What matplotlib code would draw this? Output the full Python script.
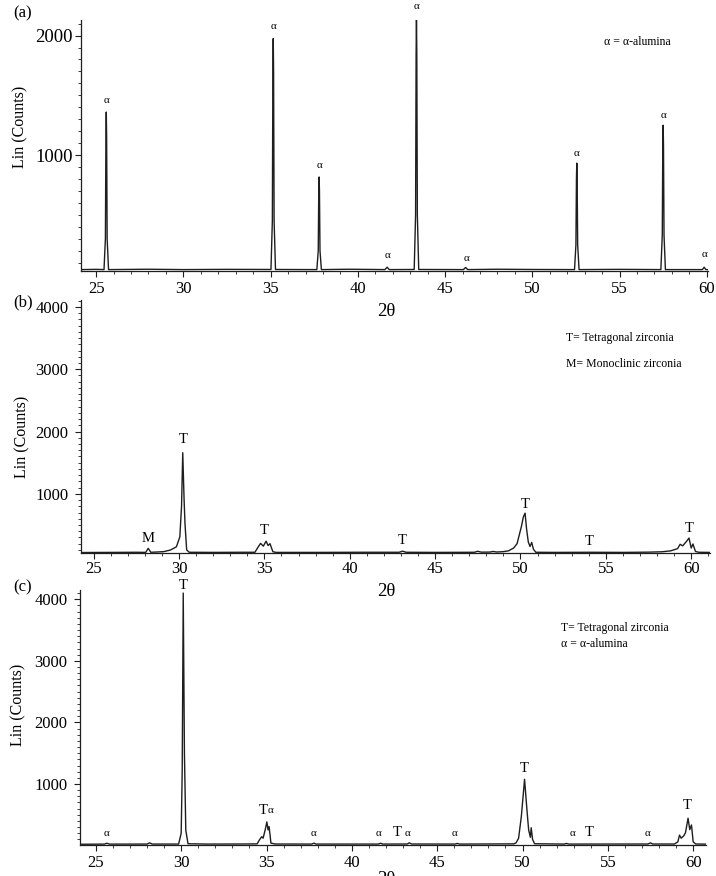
import matplotlib
matplotlib.use("Agg")
import matplotlib.pyplot as plt
from matplotlib.ticker import MultipleLocator

plt.rcParams['font.family'] = ['Liberation Serif', 'DejaVu Serif']

# ---- pattern (a): alpha-alumina ----
angle_a = [24.13, 25.0, 25.45, 25.53, 25.56, 25.58, 25.60, 25.63, 25.71,
           28.0, 30.0, 32.5,
           35.02, 35.10, 35.13, 35.15, 35.17, 35.20, 35.28,
           37.65, 37.73, 37.76, 37.78, 37.80, 37.83, 37.91,
           39.5, 41.55, 41.68, 41.80,
           43.23, 43.31, 43.34, 43.36, 43.38, 43.41, 43.49,
           46.05, 46.18, 46.30, 48.0, 50.0,
           52.42, 52.50, 52.53, 52.55, 52.57, 52.60, 52.68,
           55.0,
           57.37, 57.45, 57.48, 57.50, 57.52, 57.55, 57.63,
           59.75, 59.85, 59.95, 60.07]
counts_a = [42, 44, 42, 300, 1150, 1360, 1150, 300, 42,
            45, 42, 44,
            43, 450, 1700, 1975, 1700, 450, 43,
            42, 200, 700, 817, 700, 200, 42,
            45, 42, 62, 42,
            43, 500, 1850, 2140, 1850, 500, 43,
            42, 60, 42, 45, 43,
            42, 250, 800, 933, 800, 250, 42,
            44,
            42, 330, 1080, 1250, 1080, 330, 42,
            42, 62, 42, 42]

# ---- pattern (b): zirconia ----
angle_b = [24.26, 26.0, 27.5, 28.05, 28.2, 28.35, 28.7, 29.1, 29.5, 29.85,
           30.05, 30.15, 30.22, 30.3, 30.35, 30.45, 30.6, 32.0, 33.5,
           34.45, 34.62, 34.78, 34.94, 35.1, 35.22, 35.33, 35.5, 35.7,
           38.0, 40.5, 42.9, 43.1, 43.3, 45.0, 47.3, 47.5, 47.7, 48.2, 48.4,
           48.6, 49.0, 49.3, 49.6, 49.8, 50.05, 50.17, 50.27, 50.36, 50.46,
           50.56, 50.66, 50.76, 50.9, 52.0, 54.0, 56.0, 57.5, 58.3, 58.8,
           59.2, 59.35, 59.5, 59.72, 59.87, 60.0, 60.1, 60.25, 60.45, 61.1]
counts_b = [58, 60, 62, 60, 125, 62, 66, 72, 98, 150,
            310, 800, 1660, 900, 530, 100, 62, 60, 62,
            62, 140, 205, 160, 240, 170, 200, 70, 60,
            60, 62, 62, 80, 62, 60, 62, 78, 64, 65, 75,
            66, 72, 85, 130, 200, 470, 630, 690, 430, 225,
            155, 220, 110, 62, 60, 62, 60, 64, 70, 85,
            120, 190, 165, 235, 290, 130, 195, 75, 62, 60]

# ---- pattern (c): zirconia + alumina ----
angle_c = [24.07, 25.5, 25.64, 25.8, 28.0, 28.15, 28.3, 29.85,
           30.0, 30.06, 30.12, 30.19, 30.27, 30.4, 31.5, 33.5,
           34.45, 34.58, 34.72, 34.8, 34.93, 35.02, 35.09, 35.15, 35.26,
           35.5, 37.65, 37.78, 37.9, 41.55, 41.68, 41.8, 43.25, 43.36, 43.5,
           46.05, 46.18, 46.3, 49.5, 49.62, 49.77, 49.93, 50.12, 50.26,
           50.36, 50.46, 50.51, 50.59, 50.71, 52.45, 52.58, 52.7,
           57.35, 57.5, 57.62, 58.9, 59.1, 59.2, 59.3, 59.45, 59.55,
           59.70, 59.8, 59.9, 60.0, 60.15, 60.75]
counts_c = [22, 24, 38, 24, 25, 45, 25, 25,
            200, 1200, 4100, 1500, 250, 30, 25, 26,
            28, 90, 145, 120, 265, 385, 255, 310, 40,
            26, 25, 40, 25, 25, 38, 25, 26, 45, 26,
            25, 35, 25, 28, 45, 119, 470, 1077, 578,
            254, 135, 290, 100, 30, 25, 35, 25,
            26, 45, 26, 26, 60, 170, 120, 160, 210,
            445, 260, 335, 60, 26, 24]

# peak labels: text, 2-theta, counts at text bottom
labels_a = [('α', 25.6, 1419), ('α', 35.15, 2038), ('α', 37.8, 875),
            ('α', 41.7, 122), ('α', 43.36, 2205), ('α', 46.2, 97),
            ('α', 52.55, 975), ('α', 57.5, 1293), ('α', 59.85, 130)]
labels_b = [('M', 28.2, 178), ('T', 30.22, 1772), ('T', 35.0, 302),
            ('T', 43.1, 151), ('T', 50.3, 729), ('T', 54.0, 125),
            ('T', 59.9, 339)]
labels_c = [('T', 30.12, 4120), ('T', 34.8, 460), ('α', 35.22, 495),
            ('α', 25.64, 120), ('α', 37.74, 120), ('α', 41.57, 120),
            ('T', 42.68, 110), ('α', 43.27, 120), ('α', 46.02, 120),
            ('T', 50.12, 1147), ('α', 52.9, 120), ('T', 53.92, 110),
            ('α', 57.3, 120), ('T', 59.67, 541)]

legend_a = ['α = α-alumina']
legend_b = ['T= Tetragonal zirconia', 'M= Monoclinic zirconia']
legend_c = ['T= Tetragonal zirconia', 'α = α-alumina']

ink = '#1e1e1e'

fig = plt.figure(figsize=(7.16, 8.76), dpi=100)


def panel(rect, x, y, xlim, ylim, yticks, labels, legend, legend_xy, legend_dy,
          ypad, ysize, xpad):
    ax = fig.add_axes(rect)
    ax.plot(x, y, color=ink, lw=1.0)
    ax.set_xlim(*xlim)
    ax.set_ylim(*ylim)
    ax.set_xticks([25, 30, 35, 40, 45, 50, 55, 60])
    ax.set_yticks(yticks)
    ax.xaxis.set_minor_locator(MultipleLocator(1))
    ax.yaxis.set_minor_locator(MultipleLocator(100))
    for s in ['top', 'right']:
        ax.spines[s].set_visible(False)
    for s in ['left', 'bottom']:
        ax.spines[s].set_color(ink)
        ax.spines[s].set_linewidth(0.9)
    ax.tick_params(which='major', direction='out', length=4, width=0.8,
                   colors=ink, labelsize=12, labelcolor='black')
    ax.tick_params(which='minor', direction='out', length=2, width=0.6, colors=ink)
    ax.tick_params(axis='y', which='major', pad=ypad, labelsize=ysize)
    ax.tick_params(axis='x', which='major', pad=xpad)
    for txt, xx, yy in labels:
        size = 8 if txt == 'α' else 10.5
        ax.text(xx, yy, txt, ha='center', va='bottom', fontsize=size, clip_on=False)
    for i, t in enumerate(legend):
        ax.text(legend_xy[0], legend_xy[1] - i * legend_dy, t, transform=ax.transAxes,
                ha='left', va='center', fontsize=8.5)
    return ax


panel([0.1131, 0.6906, 0.8757, 0.2865], angle_a, counts_a, (24.13, 60.07), (30, 2130),
      [1000, 2000], labels_a, legend_a, (0.834, 0.913), 0, 2, 13.5, 3.5)
panel([0.1131, 0.3687, 0.8785, 0.2888], angle_b, counts_b, (24.26, 61.1), (50, 4110),
      [1000, 2000, 3000, 4000], labels_b, legend_b, (0.771, 0.849), 0.102, 5, 12, 1.5)
panel([0.1117, 0.0354, 0.8743, 0.2911], angle_c, counts_c, (24.07, 60.75), (10, 4150),
      [1000, 2000, 3000, 4000], labels_c, legend_c, (0.768, 0.850), 0.062, 5, 12, 3.5)

# panel letters, axis titles
for letter, yy in [('(a)', 1 - 13 / 876), ('(b)', 1 - 302 / 876), ('(c)', 1 - 587 / 876)]:
    fig.text(23 / 716, yy, letter, ha='center', va='center', fontsize=12)
for xx, yy in [(20 / 716, 1 - 127 / 876), (22 / 716, 1 - 437 / 876), (18 / 716, 1 - 705 / 876)]:
    fig.text(xx, yy, 'Lin (Counts)', rotation=90, ha='center', va='center', fontsize=11.5)
for yy in [1 - 311 / 876, 1 - 592 / 876, -0.004]:
    fig.text(386 / 716, yy, '2θ', ha='center', va='center', fontsize=13.5)

fig.savefig('out.png', dpi=100)
